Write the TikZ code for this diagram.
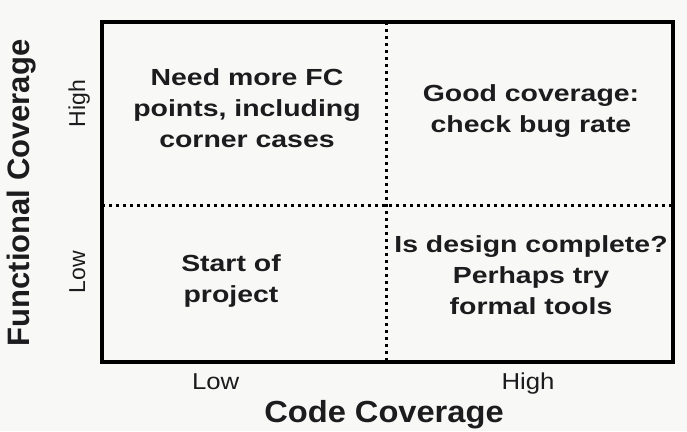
\documentclass[tikz,border=0pt]{standalone}
\usepackage{fontspec}
\setmainfont{Liberation Sans}
\newfontfamily\quadfont[FakeStretch=1.22]{Liberation Sans}
\newfontfamily\tickfont[FakeStretch=1.12]{Liberation Sans}
\newfontfamily\vtickfont{Liberation Sans}
\newfontfamily\axfont[FakeStretch=1.07]{Liberation Sans}
\definecolor{bgc}{RGB}{248,248,246}
\definecolor{txt}{RGB}{28,28,30}
\tikzset{
  quad/.style={align=center, text=txt, inner sep=0pt, font=\quadfont\bfseries\fontsize{23.3}{31}\selectfont},
  tick/.style={text=txt, inner sep=0pt, anchor=base, font=\tickfont\fontsize{23}{27}\selectfont},
  vtick/.style={text=txt, inner sep=0pt, anchor=base, rotate=90, font=\vtickfont\fontsize{23}{27}\selectfont},
  axtitle/.style={text=txt, inner sep=0pt, anchor=base, font=\axfont\bfseries\fontsize{30.5}{34}\selectfont},
  vaxtitle/.style={text=txt, inner sep=0pt, anchor=base, rotate=90, font=\vtickfont\bfseries\fontsize{31}{34}\selectfont},
  frame/.style={draw=black, line width=4pt},
  divider/.style={draw=black, line width=3pt, dash pattern=on 3pt off 4pt}
}
\begin{document}
\begin{tikzpicture}[x=1pt,y=-1pt]
\fill[bgc] (0,0) rectangle (687,431);
\useasboundingbox (0,0) rectangle (687,431);
\coordinate (tl) at (102,22);
\coordinate (br) at (673,362);
\coordinate (vt) at (386.5,22);
\coordinate (vb) at (386.5,362);
\coordinate (hl) at (102,205);
\coordinate (hr) at (673,205);
\draw[divider] (vt) -- (vb);
\draw[divider] (hl) -- (hr);
\draw[frame] (tl) rectangle (br);
\node[quad] (q1) at (247,108.5) {Need more FC\\points, including\\corner cases};
\node[quad] (q2) at (531,111) {Good coverage:\\check bug rate};
\node[quad] (q3) at (231,281) {Start of\\project};
\node[quad] (q4) at (531,275) {Is design complete?\\Perhaps try\\formal tools};
\node[tick] (xlow) at (215.7,389) {Low};
\node[tick] (xhigh) at (528,389) {High};
\node[axtitle] (xt) at (384,422) {Code Coverage};
\node[vtick] (yhigh) at (85,103.5) {High};
\node[vtick] (ylow) at (85,272) {Low};
\node[vaxtitle] (yt) at (29,193) {Functional Coverage};
\end{tikzpicture}
\end{document}
